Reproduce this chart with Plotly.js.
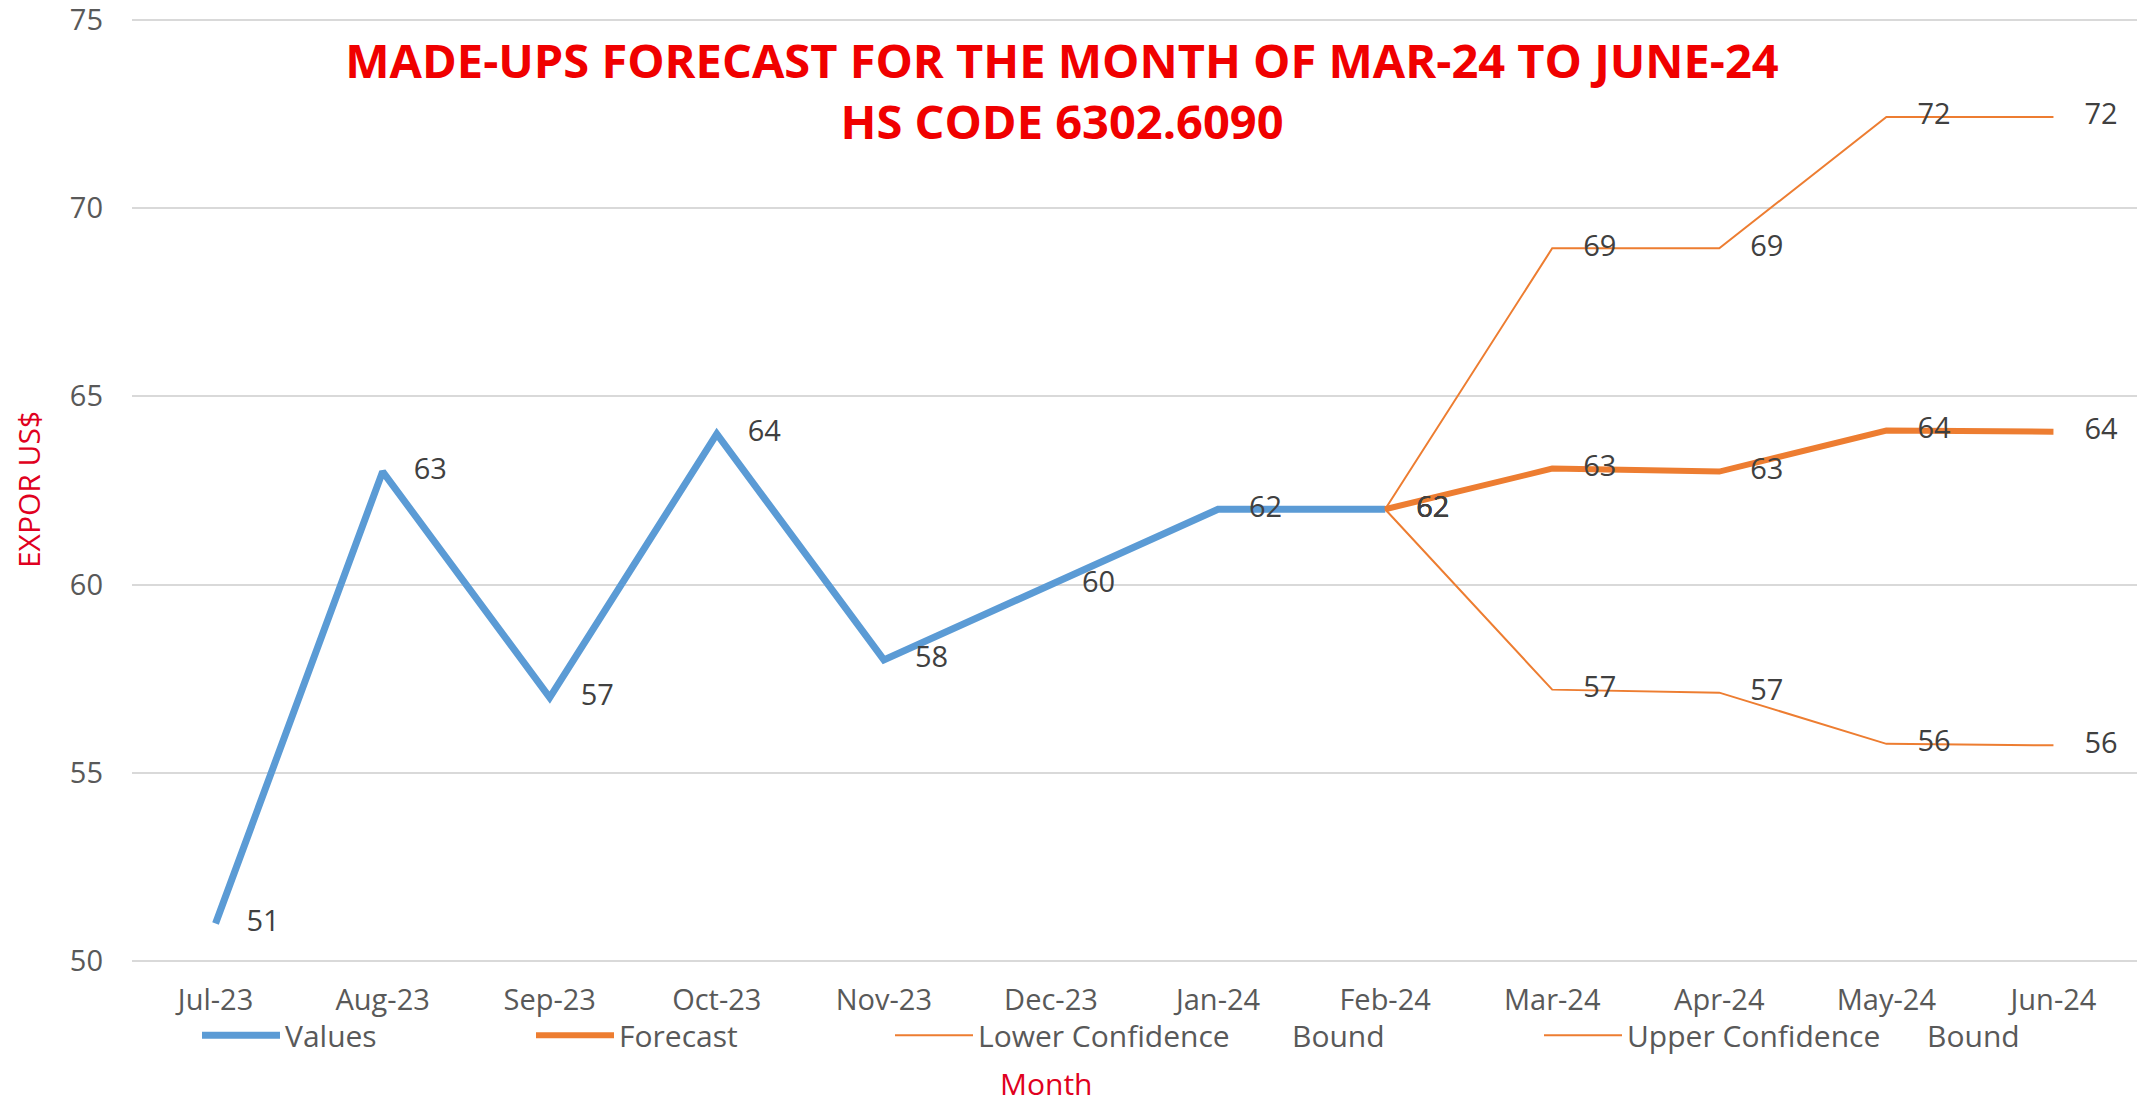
<!DOCTYPE html>
<html><head><meta charset="utf-8">
<script src="https://cdn.plot.ly/plotly-3.0.1.min.js"></script>
<style>html,body{margin:0;padding:0;background:#fff}#chart{width:2143px;height:1106px}</style>
</head><body><div id="chart"></div>
<script>
const months = ['Jul-23','Aug-23','Sep-23','Oct-23','Nov-23','Dec-23','Jan-24','Feb-24','Mar-24','Apr-24','May-24','Jun-24'];
const valueMonths = ['Jul-23','Aug-23','Sep-23','Oct-23','Nov-23','Dec-23','Jan-24','Feb-24'];
const values = [51, 63, 57, 64, 58, 60, 62, 62];
const forecastMonths = ['Feb-24','Mar-24','Apr-24','May-24','Jun-24'];
const forecast = [62, 63.08, 63.0, 64.09, 64.06];
const lowerBound = [62, 57.21, 57.13, 55.77, 55.73];
const upperBound = [62, 68.93, 68.93, 72.42, 72.42];
const yTicks = [50, 55, 60, 65, 70, 75];
const NB = '\u00a0';
const seriesNames = ['Values', 'Forecast', 'Lower Confidence' + NB.repeat(7) + ' Bound', 'Upper Confidence' + NB.repeat(5) + ' Bound'];

const FONT = 'Open Sans';
const labelFont = {family: FONT, size: 29, color: '#404040'};
const blue = '#5B9BD5', orange = '#ED7D31';

function series(x, y, name, color, width, legendId) {
  return {
    type: 'scatter', x: x, y: y, name: name, legend: legendId,
    mode: 'lines+markers+text',
    line: {color: color, width: width},
    marker: {size: 48, color: 'rgba(0,0,0,0)', line: {width: 0}},
    texttemplate: '%{y:.0f}', textposition: 'middle right', textfont: labelFont,
    cliponaxis: false, hoverinfo: 'x+y'
  };
}

const data = [
  series(valueMonths, values, seriesNames[0], blue, 7, 'legend'),
  series(forecastMonths, forecast, seriesNames[1], orange, 6, 'legend2'),
  series(forecastMonths, lowerBound, seriesNames[2], orange, 2, 'legend3'),
  series(forecastMonths, upperBound, seriesNames[3], orange, 2, 'legend4')
];

const legendBase = {orientation: 'h', xref: 'container', yref: 'container', y: 0.064, yanchor: 'middle',
  xanchor: 'left', itemwidth: 78, bgcolor: 'rgba(0,0,0,0)',
  font: {family: FONT, size: 30, color: '#595959'}};

const layout = {
  width: 2143, height: 1106,
  paper_bgcolor: '#ffffff', plot_bgcolor: '#ffffff',
  margin: {l: 132, r: 6, t: 16, b: 143},
  title: {
    text: 'MADE-UPS FORECAST FOR THE MONTH OF MAR-24 TO JUNE-24<br>HS CODE 6302.6090',
    font: {family: FONT, size: 47, color: '#F00000', weight: 'bold'},
    xref: 'container', yref: 'container', x: 1062 / 2143, xanchor: 'center', y: 1 - 78 / 1106, yanchor: 'middle'
  },
  xaxis: {
    type: 'category', categoryorder: 'array', categoryarray: months, range: [-0.5, 11.5],
    showgrid: false, zeroline: false, showline: false, ticks: '',
    ticklabelstandoff: 17,
    tickfont: {family: FONT, size: 29, color: '#595959'}
  },
  yaxis: {
    range: [49.95, 75.1], tickmode: 'array', tickvals: yTicks,
    showgrid: true, gridcolor: '#D9D9D9', gridwidth: 2,
    zeroline: false, showline: false, ticks: '',
    ticklabelstandoff: 28, ticklabeloverflow: 'allow',
    tickfont: {family: FONT, size: 29, color: '#595959'},
    title: {text: 'EXPOR US$', font: {family: FONT, size: 30, color: '#E00020'}, standoff: 20}
  },
  annotations: [{
    text: 'Month', xref: 'paper', yref: 'paper', x: (1046 - 132) / 2005, y: (963 - 1083) / 947,
    xanchor: 'center', yanchor: 'middle', showarrow: false,
    font: {family: FONT, size: 30, color: '#E00020'}
  }],
  legend: Object.assign({}, legendBase, {x: 197 / 2143}),
  legend2: Object.assign({}, legendBase, {x: 531 / 2143}),
  legend3: Object.assign({}, legendBase, {x: 890 / 2143}),
  legend4: Object.assign({}, legendBase, {x: 1539 / 2143}),
  showlegend: true
};

Plotly.newPlot('chart', data, layout, {displayModeBar: false, staticPlot: true});
</script>
</body></html>
